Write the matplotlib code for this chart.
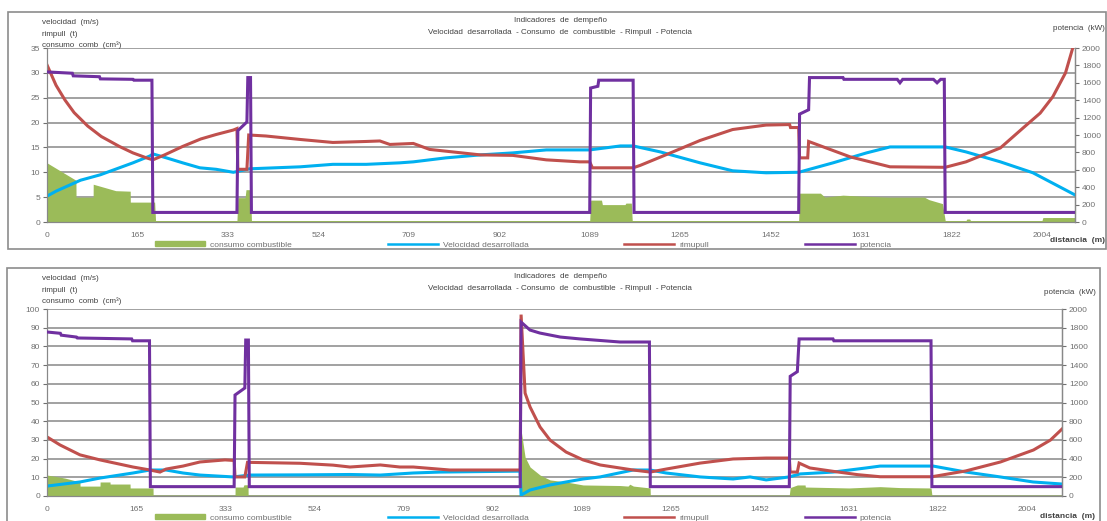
import matplotlib
matplotlib.use("Agg")
import matplotlib.pyplot as plt
from matplotlib.patches import Rectangle, Patch
from matplotlib.lines import Line2D

plt.rcParams['font.family'] = ['Liberation Sans', 'DejaVu Sans']

W, H = 1107, 521

# etiquetas del eje de categorias (distancia en m)
dist_labels = ['0', '165', '333', '524', '709', '902', '1089', '1265', '1452', '1631', '1822', '2004']

# ---------------- recorrido 1 ----------------
# posicion sobre el eje de categorias (una unidad = un rotulo)
pot1_x = [0, 0.28, 0.29, 0.58, 0.59, 0.95, 0.96, 1.16, 1.17, 2.10, 2.11, 2.21, 2.22, 2.25, 2.26,
          6.00, 6.01, 6.09, 6.10, 6.48, 6.49, 8.31, 8.32, 8.42, 8.43, 8.80, 8.81, 9.40, 9.43, 9.46,
          9.80, 9.84, 9.88, 9.92, 9.93, 11.37]
pot1_y = [1725, 1710, 1680, 1670, 1645, 1640, 1630, 1630, 110, 110, 1050, 1150, 1660, 1660, 110,
          110, 1540, 1560, 1630, 1630, 110, 110, 1240, 1290, 1660, 1660, 1640, 1640, 1600, 1640,
          1640, 1600, 1640, 1640, 110, 110]

rim1_x = [0, 0.10, 0.20, 0.30, 0.45, 0.60, 0.80, 0.95, 1.10, 1.17, 1.30, 1.50, 1.70, 1.87, 2.06,
          2.10, 2.11, 2.21, 2.23, 2.42, 2.80, 3.16, 3.53, 3.68, 3.79, 4.05, 4.23, 4.79, 5.15, 5.52,
          5.89, 6.00, 6.03, 6.48, 6.56, 6.84, 7.22, 7.58, 7.95, 8.21, 8.22, 8.31, 8.32, 8.41, 8.42,
          8.88, 9.32, 9.93, 10.16, 10.54, 10.79, 10.98, 11.12, 11.26, 11.34]
rim1_y = [31.6, 27.5, 24.5, 22.0, 19.3, 17.2, 15.2, 13.9, 12.9, 12.5, 13.5, 15.2, 16.7, 17.6, 18.5,
          18.8, 10.6, 10.6, 17.5, 17.3, 16.6, 16.0, 16.2, 16.3, 15.6, 15.8, 14.6, 13.5, 13.4, 12.5,
          12.1, 12.1, 10.9, 10.9, 11.4, 13.5, 16.4, 18.6, 19.5, 19.6, 19.0, 19.0, 12.9, 12.9, 16.2,
          13.1, 11.1, 11.0, 12.1, 14.9, 18.9, 21.9, 25.2, 30.0, 35.0]

vel1_x = [0, 0.10, 0.37, 0.59, 0.95, 1.14, 1.17, 1.32, 1.50, 1.69, 1.87, 2.06, 2.24, 2.80, 3.16,
          3.53, 3.90, 4.05, 4.41, 4.79, 5.15, 5.52, 6.00, 6.34, 6.48, 6.78, 7.22, 7.58, 7.95, 8.31,
          8.41, 8.69, 9.06, 9.32, 9.93, 10.16, 10.54, 10.90, 11.37]
vel1_y = [5.2, 6.2, 8.4, 9.5, 11.9, 13.3, 13.7, 12.9, 11.9, 10.9, 10.6, 10.0, 10.7, 11.1, 11.6,
          11.6, 11.9, 12.1, 12.9, 13.5, 13.9, 14.5, 14.5, 15.3, 15.3, 14.1, 11.9, 10.3, 9.9, 10.0,
          10.5, 11.9, 13.9, 15.1, 15.1, 14.1, 12.1, 9.9, 5.4]

con1_x = [0, 0.32, 0.321, 0.51, 0.511, 0.76, 0.92, 0.921, 1.19, 1.20, 2.10, 2.11, 2.19, 2.20, 2.25,
          2.26, 6.00, 6.01, 6.13, 6.14, 6.39, 6.40, 6.46, 6.47, 8.31, 8.32, 8.55, 8.60, 8.80, 9.00,
          9.30, 9.70, 9.75, 9.90, 9.93, 10.16, 10.17, 10.20, 10.21, 11.00, 11.01, 11.37]
con1_y = [11.9, 8.4, 5.0, 5.0, 7.6, 6.3, 6.2, 4.0, 4.0, 0.3, 0.3, 4.9, 4.9, 6.5, 6.5,
          0.3, 0.3, 4.4, 4.4, 3.5, 3.5, 3.8, 3.8, 0.3, 0.3, 5.8, 5.8, 5.0, 5.4, 5.2,
          5.0, 5.0, 4.5, 3.7, 0.3, 0.3, 0.6, 0.6, 0.3, 0.3, 0.9, 0.9]

# ---------------- recorrido 2 ----------------
pot2_x = [0, 0.15, 0.16, 0.33, 0.34, 0.95, 0.96, 1.15, 1.16, 2.10, 2.11, 2.22, 2.23, 2.26, 2.27,
          5.31, 5.32, 5.42, 5.53, 5.76, 5.98, 6.43, 6.76, 6.77, 8.33, 8.34, 8.42, 8.44, 8.82, 8.83,
          9.92, 9.93, 11.39]
pot2_y = [1754, 1740, 1720, 1700, 1690, 1680, 1660, 1660, 100, 100, 1080, 1155, 1668, 1668, 100,
          100, 1860, 1775, 1743, 1700, 1680, 1647, 1647, 100, 100, 1280, 1330, 1680, 1680, 1660,
          1660, 100, 100]

rim2_x = [0, 0.146, 0.37, 0.595, 0.965, 1.156, 1.268, 1.336, 1.526, 1.717, 1.998, 2.10, 2.11, 2.22,
          2.25, 2.84, 3.21, 3.40, 3.74, 3.96, 4.11, 4.52, 5.31, 5.32, 5.365, 5.421, 5.533, 5.645,
          5.825, 6.016, 6.207, 6.577, 6.768, 6.947, 7.329, 7.699, 8.07, 8.33, 8.34, 8.42, 8.44,
          8.56, 8.82, 9.10, 9.35, 9.93, 10.31, 10.70, 11.07, 11.26, 11.39]
rim2_y = [31.6, 27.3, 22.0, 19.3, 15.5, 13.9, 12.8, 14.4, 16.0, 18.2, 19.3, 19.0, 10.2, 10.2,
          18.0, 17.5, 16.5, 15.5, 16.6, 15.5, 15.5, 13.9, 13.9, 97.0, 55.0, 47.6, 36.9, 29.9,
          23.5, 19.3, 16.6, 13.9, 12.8, 14.4, 17.6, 19.8, 20.3, 20.3, 12.8, 12.8, 17.6,
          15.0, 13.2, 11.4, 10.3, 10.3, 13.4, 18.2, 24.6, 29.9, 35.8]

vel2_x = [0, 0.37, 0.595, 0.965, 1.156, 1.336, 1.526, 1.717, 2.088, 2.278, 2.84, 3.40, 3.74, 4.11,
          4.41, 5.309, 5.32, 5.421, 5.645, 5.825, 6.016, 6.207, 6.577, 6.768, 6.947, 7.329, 7.699,
          7.89, 8.07, 8.328, 8.451, 8.822, 9.192, 9.349, 9.944, 10.314, 10.696, 11.066, 11.392]
vel2_y = [5.3, 7.5, 9.6, 12.3, 13.9, 13.9, 12.3, 11.2, 10.2, 11.2, 11.3, 11.5, 11.2, 12.3,
          12.8, 13.3, 0.5, 3.2, 5.9, 7.5, 9.1, 10.2, 13.9, 13.9, 12.3, 10.2, 9.1,
          10.2, 8.6, 10.2, 11.8, 12.8, 15.0, 16.0, 16.0, 12.8, 10.2, 7.5, 6.4]

con2_x = [0, 0.09, 0.20, 0.37, 0.371, 0.595, 0.596, 0.707, 0.708, 0.932, 0.933, 1.19, 1.191, 2.11,
          2.111, 2.20, 2.21, 2.256, 2.257, 5.309, 5.32, 5.365, 5.421, 5.533, 5.645, 5.825, 6.016,
          6.431, 6.52, 6.54, 6.58, 6.768, 6.77, 8.33, 8.34, 8.42, 8.507, 8.51, 9.00, 9.35, 9.57,
          9.92, 9.93, 11.392]
con2_y = [11.2, 10.5, 9.6, 7.5, 5.3, 5.3, 7.5, 7.5, 6.4, 6.4, 4.3, 4.3, 0.5, 0.5,
          4.8, 4.8, 6.0, 6.0, 0.5, 0.5, 35.3, 20.8, 15.5, 11.2, 8.6, 7.5, 5.9,
          5.6, 5.3, 6.3, 5.3, 4.3, 0.5, 0.5, 4.5, 5.9, 5.9, 4.8, 4.3, 5.0, 4.5,
          4.3, 0.5, 0.5]

C_CON = '#9bbb59'
C_VEL = '#00b0f0'
C_RIM = '#c0504d'
C_POT = '#7030a0'
C_GRID = '#888888'
C_TXT = '#404040'


def fx(px):
    return px / W


def fy(py):
    return 1 - py / H


def draw_panel(fig, box, frame, ymax, ystep, xmax, series, texts):
    left, top, right, bottom = box
    fig.patches.append(Rectangle((fx(frame[0]), fy(frame[3])), fx(frame[2] - frame[0]),
                                 (frame[3] - frame[1]) / H, transform=fig.transFigure,
                                 fill=False, edgecolor='#8c8c8c', lw=1.2))
    ax = fig.add_axes([fx(left), fy(bottom), fx(right - left), (bottom - top) / H])
    ax2 = ax.twinx()
    cx, cy, vx, vy, rx, ry, px_, py_ = series

    ax.fill_between(cx, cy, 0, color=C_CON, lw=0, zorder=2)
    ax.plot(vx, vy, color=C_VEL, lw=2.2, zorder=3, solid_joinstyle='miter')
    ax.plot(rx, ry, color=C_RIM, lw=2.2, zorder=4, solid_joinstyle='miter')
    ax2.plot(px_, py_, color=C_POT, lw=2.2, zorder=5, solid_joinstyle='miter')

    ax.set_xlim(0, xmax)
    ax.set_ylim(0, ymax)
    ax2.set_ylim(0, 2000)
    ax.set_yticks(range(0, ymax + 1, ystep))
    ax2.set_yticks(range(0, 2001, 200))
    ax.set_xticks(range(len(dist_labels)))
    ax.set_xticklabels(dist_labels)
    ax.yaxis.grid(True, color=C_GRID, lw=1.1)
    ax.set_axisbelow(True)
    for a in (ax, ax2):
        a.spines['top'].set_visible(False)
        a.spines['left'].set_color(C_GRID)
        a.spines['right'].set_color(C_GRID)
        a.spines['bottom'].set_color(C_GRID)
        a.tick_params(colors='#707070', labelsize=6, length=3, width=0.8)
    ax.tick_params(axis='x', length=0, pad=7)
    ax.tick_params(axis='y', pad=2)
    ax2.tick_params(axis='y', pad=2)
    ax2.spines['right'].set_linewidth(1.0)

    # rotulos de ejes y titulo
    t_left, t_title, t_pot, t_dist, t_leg = texts
    for i, s in enumerate(['velocidad  (m/s)', 'rimpull  (t)', 'consumo  comb  (cm³)']):
        fig.text(fx(42), fy(t_left + 11 * i), s, fontsize=5.8, color=C_TXT, va='center')
    fig.text(fx(561), fy(t_title), 'Indicadores  de  dempeño', fontsize=5.8,
             color=C_TXT, ha='center', va='center')
    fig.text(fx(560), fy(t_title + 11),
             'Velocidad  desarrollada  - Consumo  de  combustible  - Rimpull  - Potencia',
             fontsize=5.8, color=C_TXT, ha='center', va='center')
    fig.text(fx(t_pot[0]), fy(t_pot[1]), 'potencia  (kW)', fontsize=5.8, color=C_TXT,
             ha='right', va='center')
    fig.text(fx(t_dist[0]), fy(t_dist[1]), 'distancia  (m)', fontsize=6, color=C_TXT,
             ha='right', va='center', fontweight='bold')

    handles = [Patch(color=C_CON), Line2D([], [], color=C_VEL, lw=1.8),
               Line2D([], [], color=C_RIM, lw=1.8), Line2D([], [], color=C_POT, lw=1.8)]
    labels = ['consumo combustible', 'Velocidad desarrollada', 'rimupull', 'potencia']
    fig.legend(handles, labels, loc='center left', bbox_to_anchor=(fx(155), fy(t_leg)),
               ncol=4, frameon=False, fontsize=6, handlelength=6.0, handleheight=0.5,
               handletextpad=0.6, columnspacing=11.5, labelcolor='#707070',
               borderpad=0, borderaxespad=0)
    return ax, ax2


fig = plt.figure(figsize=(W / 100, H / 100), dpi=100)

draw_panel(fig, (47, 48, 1075, 222), (8, 12, 1106, 249), 35, 5, 11.365,
           (con1_x, con1_y, vel1_x, vel1_y, rim1_x, rim1_y, pot1_x, pot1_y),
           (23, 21, (1105, 29), (1105, 240), 245))

draw_panel(fig, (47, 309, 1062, 496), (7, 268, 1100, 540), 100, 10, 11.39,
           (con2_x, con2_y, vel2_x, vel2_y, rim2_x, rim2_y, pot2_x, pot2_y),
           (279, 277, (1096, 292), (1095, 516), 518))

fig.savefig('out.png', dpi=100)
